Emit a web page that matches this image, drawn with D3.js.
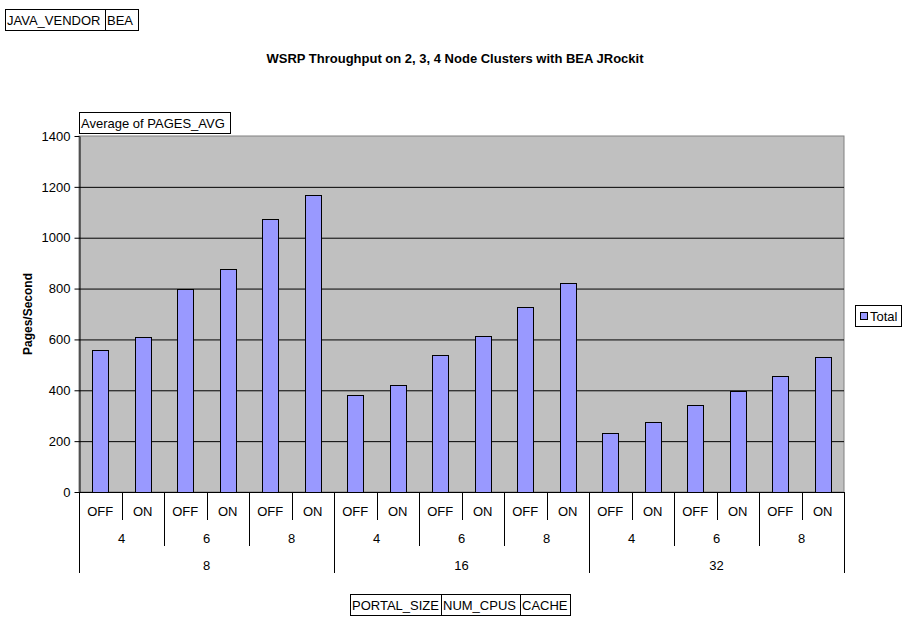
<!DOCTYPE html>
<html>
<head>
<meta charset="utf-8">
<script src="https://cdn.jsdelivr.net/npm/d3@7"></script>
<style>
  body { margin: 0; background: #fff; }
  text { font-family: "Liberation Sans", Arial, sans-serif; font-size: 12px; fill: #000; }
</style>
</head>
<body>
<svg id="chart" width="911" height="623"></svg>
<script>
// pivot data
const portalSizes = ["8", "16", "32"];
const numCpus = ["4", "6", "8"];
const cacheModes = ["OFF", "ON"];
const pagesAvg = [557, 608, 797, 877, 1072, 1168, 380, 420, 538, 612, 726, 821, 231, 274, 341, 396, 455, 530];
const yTicks = [0, 200, 400, 600, 800, 1000, 1200, 1400];

const svg = d3.select("#chart"),
    width = +svg.attr("width"),
    height = +svg.attr("height");

const plot = { left: 79, right: 844, top: 136, bottom: 492 };

// build rows: every combination in pivot order
const rows = [];
portalSizes.forEach(p => numCpus.forEach(c => cacheModes.forEach(k => rows.push({ p, c, k }))));
rows.forEach((d, i) => d.value = pagesAvg[i]);

const x = d3.scaleBand()
    .domain(d3.range(rows.length))
    .range([plot.left, plot.right])
    .paddingInner(0.62)
    .paddingOuter(0.31);

const y = d3.scaleLinear()
    .domain([0, 1400])
    .range([plot.bottom, plot.top]);

// plot area
svg.append("rect")
    .attr("x", plot.left).attr("y", plot.top)
    .attr("width", plot.right - plot.left).attr("height", plot.bottom - plot.top)
    .attr("fill", "#c0c0c0")
    .attr("stroke", "#808080");

// gridlines
svg.append("g")
    .selectAll("line")
    .data(yTicks.filter(t => t > 0 && t < 1400))
    .join("line")
    .attr("x1", plot.left).attr("x2", plot.right)
    .attr("y1", d => y(d) + 0.5).attr("y2", d => y(d) + 0.5)
    .attr("stroke", "#000");

// bars
svg.append("g")
    .selectAll("rect")
    .data(rows)
    .join("rect")
    .attr("x", (d, i) => Math.round(x(i)) + 0.5)
    .attr("y", d => Math.round(y(d.value)) + 0.5)
    .attr("width", Math.round(x.bandwidth()))
    .attr("height", d => Math.round(y(0)) - Math.round(y(d.value)))
    .attr("fill", "#9999ff")
    .attr("stroke", "#000");

// y axis
const yAxis = svg.append("g")
    .attr("transform", `translate(${plot.left + 0.5},0)`)
    .call(d3.axisLeft(y).tickValues(yTicks).tickFormat(d3.format("d"))
        .tickSize(5).tickPadding(4).tickSizeOuter(0));
yAxis.select(".domain").attr("stroke", "#000");
yAxis.selectAll("text").style("font-size", "13px").attr("fill", "#000");

svg.append("text")
    .attr("transform", `translate(32,${(plot.top + plot.bottom) / 2}) rotate(-90)`)
    .attr("text-anchor", "middle")
    .style("font-weight", "bold")
    .text("Pages/Second");

// hierarchical category axis
const step = x.step();
const axisG = svg.append("g");
axisG.append("line")
    .attr("x1", plot.left).attr("x2", plot.right)
    .attr("y1", plot.bottom + 0.5).attr("y2", plot.bottom + 0.5)
    .attr("stroke", "#000");

const divs = d3.range(rows.length + 1);
axisG.selectAll("line.div")
    .data(divs)
    .join("line")
    .attr("class", "div")
    .attr("x1", i => Math.round(plot.left + i * step) + 0.5)
    .attr("x2", i => Math.round(plot.left + i * step) + 0.5)
    .attr("y1", plot.bottom)
    .attr("y2", i => i % 6 === 0 ? 573 : (i % 2 === 0 ? 546 : 520))
    .attr("stroke", "#000");

axisG.selectAll("text.cache")
    .data(rows)
    .join("text")
    .attr("x", (d, i) => plot.left + (i + 0.5) * step)
    .attr("y", 516)
    .attr("text-anchor", "middle")
    .style("font-size", "13px")
    .text(d => d.k);

const cpuGroups = rows.filter((d, i) => i % 2 === 0);
axisG.selectAll("text.cpu")
    .data(cpuGroups)
    .join("text")
    .attr("x", (d, i) => plot.left + (i * 2 + 1) * step)
    .attr("y", 543)
    .attr("text-anchor", "middle")
    .style("font-size", "13px")
    .text(d => d.c);

axisG.selectAll("text.portal")
    .data(portalSizes)
    .join("text")
    .attr("x", (d, i) => plot.left + (i * 6 + 3) * step)
    .attr("y", 570)
    .attr("text-anchor", "middle")
    .style("font-size", "13px")
    .text(d => d);

// title
svg.append("text")
    .attr("x", 455)
    .attr("y", 63)
    .attr("text-anchor", "middle")
    .style("font-weight", "bold")
    .style("font-size", "13px")
    .text("WSRP Throughput on 2, 3, 4 Node Clusters with BEA JRockit");

// pivot field buttons
function fieldButton(x0, y0, w, h, label) {
    const g = svg.append("g");
    g.append("rect")
        .attr("x", x0 + 0.5).attr("y", y0 + 0.5)
        .attr("width", w).attr("height", h)
        .attr("fill", "#fff").attr("stroke", "#000");
    g.append("text")
        .attr("x", x0 + 2)
        .attr("y", y0 + h / 2 + 5)
        .style("font-size", "13px")
        .text(label);
}
fieldButton(5, 9, 100, 21, "JAVA_VENDOR");
fieldButton(105, 9, 33, 21, "BEA");
fieldButton(79, 112, 151, 21, "Average of PAGES_AVG");
fieldButton(350, 594, 91, 21, "PORTAL_SIZE");
fieldButton(441, 594, 79, 21, "NUM_CPUS");
fieldButton(520, 594, 50, 21, "CACHE");

// legend
const legend = svg.append("g").attr("transform", "translate(855,305)");
legend.append("rect")
    .attr("x", 0.5).attr("y", 0.5)
    .attr("width", 46).attr("height", 21)
    .attr("fill", "#fff").attr("stroke", "#000");
legend.append("rect")
    .attr("x", 5.5).attr("y", 7.5)
    .attr("width", 7).attr("height", 7)
    .attr("fill", "#9999ff").attr("stroke", "#000");
legend.append("text")
    .attr("x", 15)
    .attr("y", 16)
    .style("font-size", "13px")
    .text("Total");
</script>
</body>
</html>
